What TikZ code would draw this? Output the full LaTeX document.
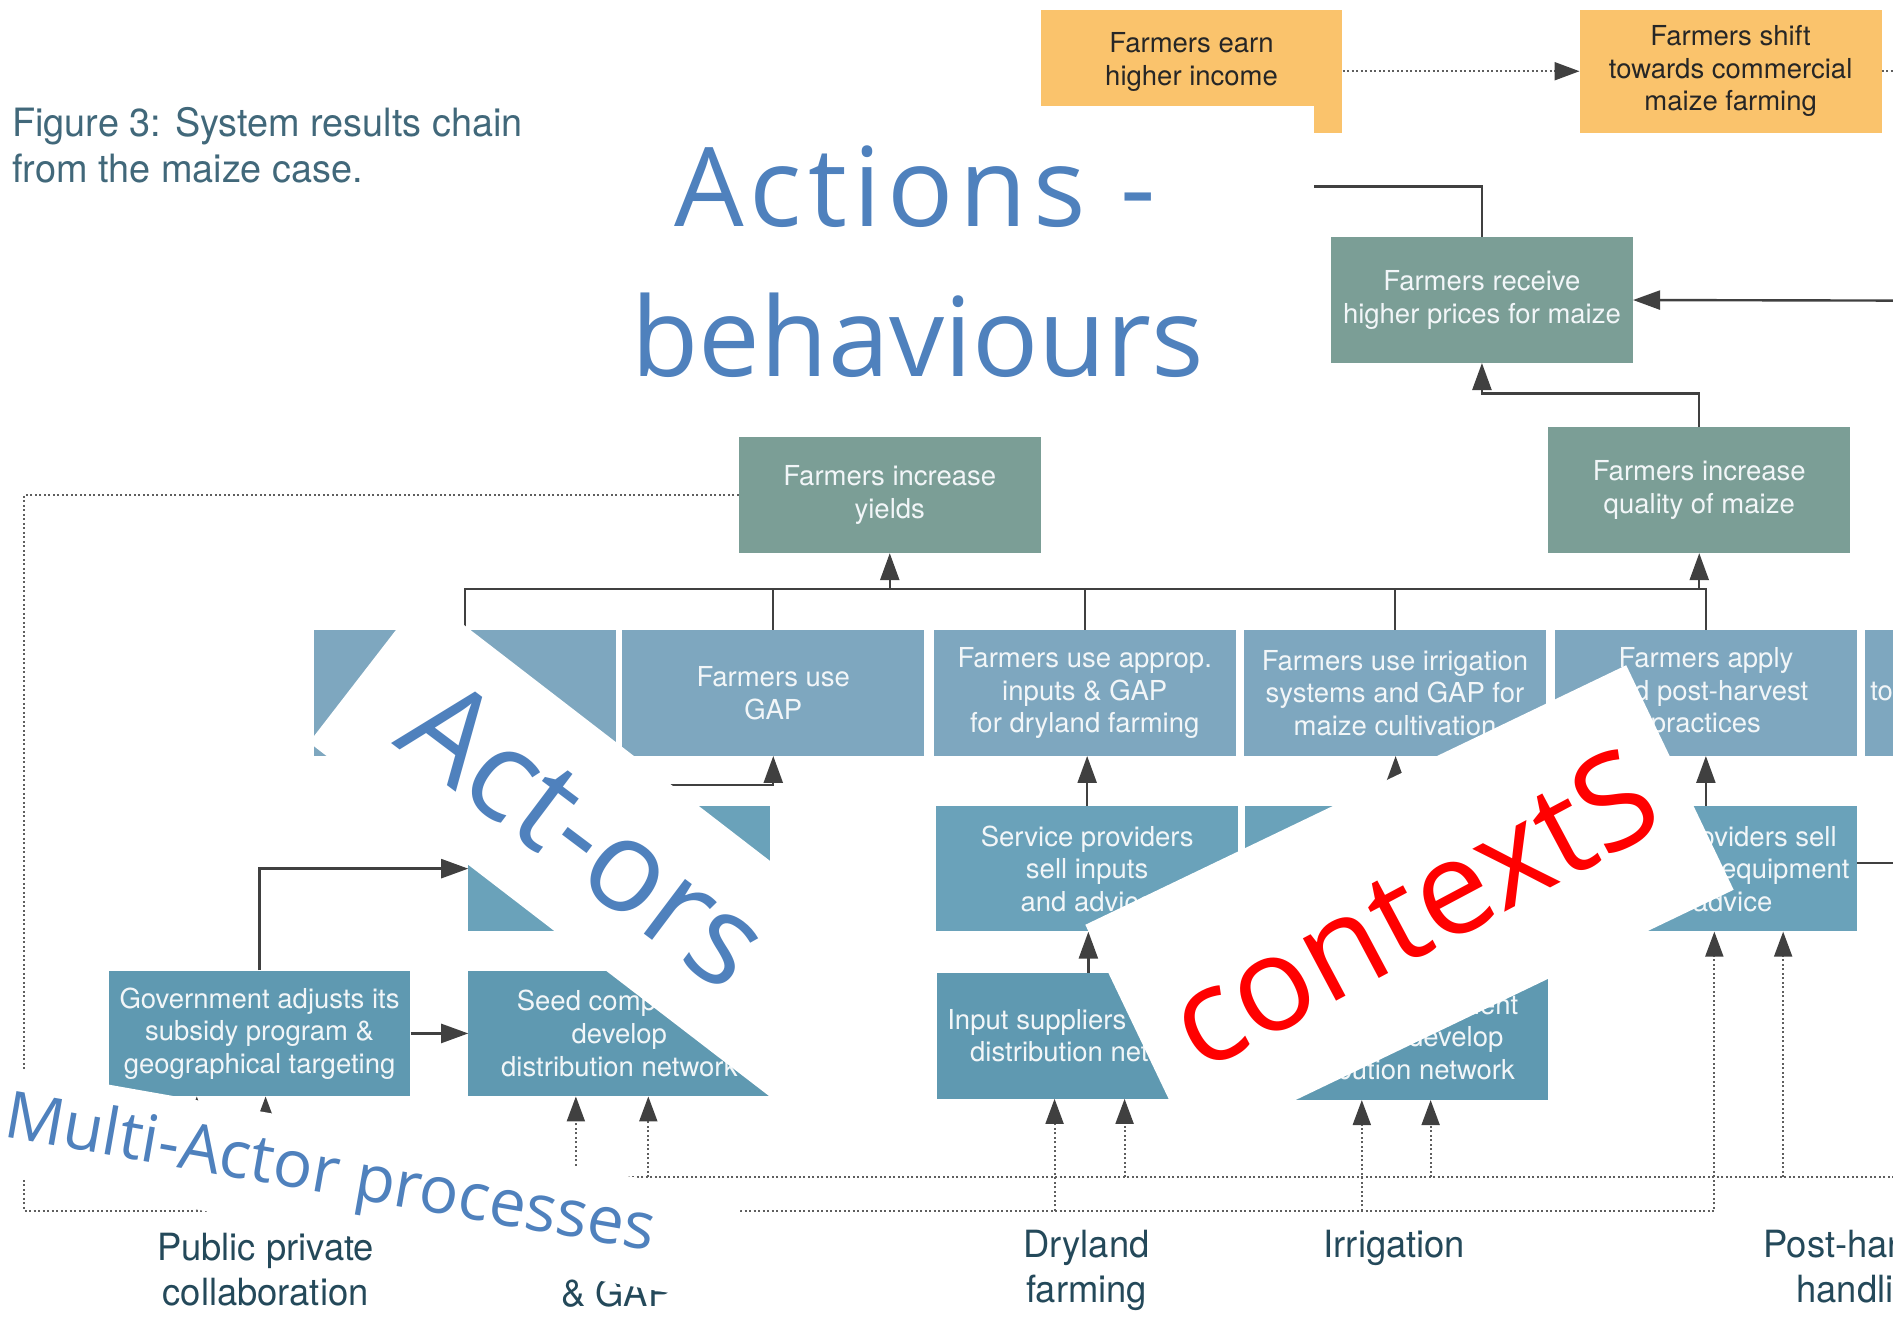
\documentclass[tikz,border=0pt]{standalone}
\usepackage{fontspec}
\usetikzlibrary{arrows.meta, calc}

\newfontfamily\boxfont{TeX Gyre Heros}
\newfontfamily\capfont[FakeStretch=0.97]{TeX Gyre Heros}
\newfontfamily\handfont{Open Sans}
\newfontfamily\actionsfont[LetterSpace=5.6]{Open Sans}

\definecolor{orangebox}{HTML}{FAC36C}
\definecolor{greenbox}{HTML}{7B9E96}
\definecolor{bluebox}{HTML}{7EA7BF}
\definecolor{midbox}{HTML}{6AA2BA}
\definecolor{lowbox}{HTML}{5F99B1}
\definecolor{boxtext}{HTML}{F2F6F8}
\definecolor{linegray}{HTML}{404040}
\definecolor{dotgray}{HTML}{5E5E5E}
\definecolor{labelteal}{HTML}{24495A}
\definecolor{captionteal}{HTML}{41687A}
\definecolor{handblue}{HTML}{4F81BD}

\tikzset{
  farmbox/.style={rectangle, fill=bluebox, text=boxtext, align=center, inner sep=0pt,
    minimum width=301.8pt, minimum height=125.6pt,
    font=\boxfont\fontsize{27.5}{32.6}\selectfont},
  goalbox/.style={farmbox, fill=orangebox, text=black!85, minimum height=123pt},
  outcomebox/.style={farmbox, fill=greenbox},
  practicebox/.style={farmbox, fill=bluebox},
  servicebox/.style={farmbox, fill=midbox},
  actorbox/.style={farmbox, fill=lowbox},
  arealabel/.style={text=labelteal, align=center, inner sep=0pt,
    font=\capfont\fontsize{37.5}{45}\selectfont},
  link/.style={draw=linegray, line width=2.4pt},
  linkarr/.style={link, -{Triangle[length=27pt, width=19pt]}},
  dotlink/.style={draw=dotgray, line width=2pt, dash pattern=on 2pt off 2.5pt},
  dotarr/.style={dotlink, -{Triangle[length=25pt, width=18pt, color=linegray]}},
  patch/.style={fill=white},
  handtext/.style={text=handblue, inner sep=0pt}
}

\begin{document}
\begin{tikzpicture}[x=1.2073pt, y=-1.2073pt]
\useasboundingbox (0,0) rectangle (1568,1093);
\clip (0,0) rectangle (1568,1093);

\node[anchor=west, align=left, inner sep=0pt, text=captionteal,
  font=\capfont\fontsize{39}{46}\selectfont] (caption) at (10,120)
  {Figure 3: System results chain\\from the maize case.};

\node[goalbox] (income) at (987,59) {};
\node[align=center, inner sep=0pt, text=black!85, font=\boxfont\fontsize{27.5}{32.6}\selectfont]
  (incometext) at (987,51.5) {Farmers earn\\higher income};
\node[goalbox] (shift) at (1433.5,59) {Farmers shift\\towards commercial\\maize farming};

\node[outcomebox] (prices) at (1227.5,248.5) {Farmers receive\\higher prices for maize};
\node[outcomebox, minimum height=116pt] (yields) at (737,410) {Farmers increase\\yields};
\node[outcomebox] (quality) at (1407.5,406) {Farmers increase\\quality of maize};

\node[practicebox] (seeduse) at (385,574) {};
\node[practicebox] (gapuse) at (640.5,574) {Farmers use\\GAP};
\node[practicebox] (dryuse) at (898.5,574) {Farmers use approp.\\inputs \& GAP\\for dryland farming};
\node[practicebox] (irruse) at (1155.5,574) {Farmers use irrigation\\systems and GAP for\\maize cultivation};
\node[practicebox] (postuse) at (1413,574) {Farmers apply\\and post-harvest\\practices};
\node[practicebox] (nextuse) at (1670,574) {};
\node[anchor=west, inner sep=0pt, text=boxtext, font=\boxfont\fontsize{27.5}{32.6}\selectfont]
  (nexttext) at (1549,573) {to};

\node[servicebox] (seedsell) at (513,719.5) {};
\node[servicebox] (inputsell) at (900.5,719.5) {Service providers\\sell inputs\\and advice};
\node[servicebox] (irrsell) at (1156,719.5) {};
\node[servicebox] (equipsell) at (1413,719.5) {Service providers sell\\post-harvest equipment\\and advice};

\node[actorbox] (gov) at (215,856) {Government adjusts its\\subsidy program \&\\geographical targeting};
\node[actorbox] (seedco) at (513,856) {Seed companies\\develop\\distribution network};
\node[actorbox] (inputco) at (901.5,858) {Input suppliers develop\\distribution network};
\node[actorbox] (irrco) at (1157,859) {Irrigation equipment\\suppliers develop\\distribution network};

\node[arealabel] (lpublic) at (220,1052) {Public private\\collaboration};
\node[arealabel] (lseed) at (511,1071) {\& GAP};
\node[arealabel] (ldry) at (900,1052) {Dryland\\farming};
\node[arealabel] (lirr) at (1155,1034) {Irrigation};
\node[arealabel] (lpost) at (1545,1052) {Post-harvest\\handling};

\coordinate (bus) at (0,488);
\coordinate (shiftout) at (1580,59);
\coordinate (pricesin) at (1580,249);
\coordinate (equipout) at (1580,715);
\coordinate (loopA) at (20,1003);
\coordinate (loopB) at (1580,975);

\draw[dotarr] (income.east) -- (shift.west);
\draw[dotlink] (shift.east) -- (shiftout);
\draw[linkarr] (prices.north) -- ++(0,-42) -| (income.south);
\draw[linkarr] (pricesin) -- (prices.east);
\draw[linkarr] (quality.north) -- ++(0,-28) -| (prices.south);

\draw[link] (seeduse.north) |- (bus -| postuse.north) -- (postuse.north);
\foreach \n in {gapuse,dryuse,irruse}
  \draw[link] (\n.north) -- (\n.north |- bus);
\draw[linkarr] (yields.south |- bus) -- (yields.south);
\draw[linkarr] (quality.south |- bus) -- (quality.south);

\draw[linkarr] (seedsell.north) -- ++(0,-17) -| (gapuse.south);
\draw[linkarr] (inputsell.north) -- (inputsell.north |- dryuse.south);
\draw[linkarr] (irrsell.north) -- (irrsell.north |- irruse.south);
\draw[linkarr] (equipsell.north) -- (equipsell.north |- postuse.south);
\draw[link] (equipsell.east |- equipout) -- (equipout);

\draw[linkarr] (gov.north) |- (seedsell.west);
\draw[linkarr] (gov.east) -- (seedco.west);
\draw[linkarr] (seedco.north) -- (seedsell.south);
\draw[linkarr] (inputco.north) -- (inputco.north |- inputsell.south);
\draw[linkarr] (irrco.north) -- (irrco.north |- irrsell.south);

\draw[dotarr] (yields.west) -| (loopA) -| ($(equipsell.south)+(7,0)$);
\foreach \n/\dx in {gov/-52, seedco/-36, inputco/-28, irrco/-29}{
  \coordinate (tip) at ($(\n.south)+(\dx,0)$);
  \draw[dotarr] (tip |- loopA) -- (tip);
}
\draw[dotarr] (loopB) -| ($(gov.south)+(5,0)$);
\foreach \n/\dx in {seedco/24, inputco/30, irrco/28, equipsell/64}{
  \coordinate (tip) at ($(\n.south)+(\dx,0)$);
  \draw[dotarr] (tip |- loopB) -- (tip);
}

\fill[patch] (505,88) rectangle (1088,345);
\fill[patch] (351,492) -- (770,815) -- (675,937) -- (256,615) -- cycle;
\fill[patch] (899,766) -- (1347,551) -- (1436,737) -- (988,952) -- cycle;
\fill[patch] (-20,879) -- (615,991) -- (600,1079) -- (-35,967) -- cycle;

\node[handtext, anchor=base, font=\actionsfont\fontsize{110}{130}\selectfont] (actions) at (758,188) {Actions -};
\node[handtext, anchor=base, font=\handfont\fontsize{110}{130}\selectfont] (behaviours) at (760,312) {behaviours};
\node[handtext, rotate=-37, font=\handfont\fontsize{128}{150}\selectfont] (actors) at (485,690) {Act-ors};
\node[handtext, text=red, rotate=28, font=\handfont\fontsize{132}{150}\selectfont] (contexts) at (1170,752) {contextS};
\node[handtext, rotate=-10, font=\handfont\fontsize{65.5}{72}\selectfont] (multi) at (273,975) {Multi-Actor processes};
\end{tikzpicture}
\end{document}
